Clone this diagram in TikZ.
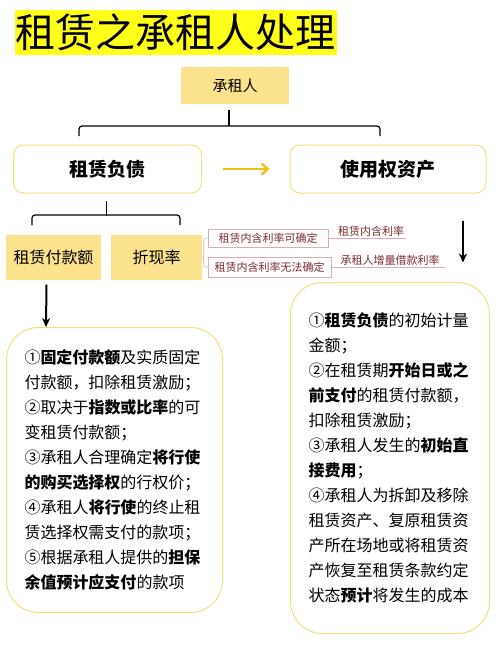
\documentclass[tikz,border=0pt]{standalone}
\usepackage{fontspec}
\setmainfont{Noto Sans CJK SC}
\usepackage{xcolor}
\usetikzlibrary{arrows.meta, positioning, calc}

\begin{document}
\begin{tikzpicture}[x=1pt, y=-1pt,
  fillbox/.style={fill=caixa, minimum width=#1, inner sep=0pt},
  roundbox/.style={draw=borda, line width=1pt, fill=white, rounded corners=10pt, inner sep=0pt},
  bigbox/.style={draw=borda, line width=1pt, fill=white, rounded corners=32pt, align=left,
    inner xsep=18pt, inner ysep=0pt, anchor=north west, font=\fontsize{16}{25}\selectfont},
  taxa/.style={draw=rosa, line width=0.5pt, text=vinho, inner sep=0pt, font=\fontsize{11}{11}\selectfont},
  taxaout/.style={text=vinho, inner ysep=1pt, anchor=south, font=\fontsize{11}{11}\selectfont},
  chave/.style={line width=1.2pt, color=black, rounded corners=3pt}]
% --- CORES HEX ---
\definecolor{destaque}{HTML}{FFFF1A}
\definecolor{caixa}{HTML}{FBE38D}
\definecolor{borda}{HTML}{F3DF7C}
\definecolor{seta}{HTML}{F2C21B}
\definecolor{rosa}{HTML}{D9AEB4}
\definecolor{vinho}{HTML}{7A2B33}

\useasboundingbox (0,0) rectangle (500,654);

% LAYER 1: Titulo
\node[fill=destaque, minimum width=322pt, minimum height=45pt, inner sep=0pt,
  font=\fontsize{40}{40}\selectfont] (titulo) at (176,32.5) {租赁之承租人处理};

% LAYER 2: Caixas principais
\node[fillbox=108pt, minimum height=37pt, font=\fontsize{15}{15}\selectfont] (ct) at (235,85.5) {承租人};
\node[roundbox, minimum width=188pt, minimum height=48pt, font=\fontsize{19}{19}\selectfont\bfseries] (zl) at (107.5,169) {租赁负债};
\node[roundbox, minimum width=196pt, minimum height=48pt, font=\fontsize{19}{19}\selectfont\bfseries] (sy) at (388,169) {使用权资产};
\node[fillbox=95pt, minimum height=45pt, font=\fontsize{16}{16}\selectfont] (fk) at (53.5,257) {租赁付款额};
\node[fillbox=91pt, minimum height=45pt, font=\fontsize{16}{16}\selectfont] (zx) at (156.5,257) {折现率};

% LAYER 3: Chaves
\draw[line width=1.2pt] ($(ct.south)+(-6,6)$) -- ($(ct.south)+(-6,22)$);
\draw[chave] (79,136) -- (79,126) -- (380,126) -- (380,136);
\draw[line width=1.2pt] ($(zl.south)+(-1,7)$) -- ($(zl.south)+(-1,22)$);
\draw[chave] (32,225) -- (32,215) -- (180,215) -- (180,225);

% LAYER 4: Taxas de desconto
\node[taxa, minimum width=120pt, minimum height=18pt] (l1) at (268,238) {租赁内含利率可确定};
\node[taxa, minimum width=123pt, minimum height=20pt] (l2) at (269.5,267) {租赁内含利率无法确定};
\node[taxaout, inner xsep=2pt] (r1) at (371,238) {租赁内含利率};
\node[taxaout, inner xsep=5pt] (r2) at (390,267) {承租人增量借款利率};
\draw[rosa, line width=0.6pt] (zx.east) -- ++(2,0);
\draw[rosa, line width=0.6pt, rounded corners=2pt] (l1.west) -- ++(-4,0) |- (l2.west);
\draw[rosa, line width=0.6pt] (l1.east) -- (r1.south east);
\draw[rosa, line width=0.6pt] (l2.east) -- (r2.south east);

% LAYER 5: Caixas de texto
\node[bigbox, text width=180pt, minimum width=216pt, minimum height=285pt] (lb) at (6,327) {%
①\textbf{固定付款额}及实质固定\\
付款额，扣除租赁激励；\\
②取决于\textbf{指数或比率}的可\\
变租赁付款额；\\
③承租人合理确定\textbf{将行使}\\
\textbf{的购买选择权}的行权价；\\
④承租人\textbf{将行使}的终止租\\
赁选择权需支付的款项；\\
⑤根据承租人提供的\textbf{担保}\\
\textbf{余值预计应支付}的款项};
\node[bigbox, text width=163pt, minimum width=199pt, minimum height=351pt] (rb) at (290,282) {%
①\textbf{租赁负债}的初始计量\\
金额；\\
②在租赁期\textbf{开始日或之}\\
\textbf{前支付}的租赁付款额，\\
扣除租赁激励；\\
③承租人发生的\textbf{初始直}\\
\textbf{接费用}；\\
④承租人为拆卸及移除\\
租赁资产、复原租赁资\\
产所在场地或将租赁资\\
产恢复至租赁条款约定\\
状态\textbf{预计}将发生的成本};

% LAYER 6: Setas
\draw[seta, line width=2.5pt, -{Straight Barb[length=6pt, width=11pt]}] (zl.east)+(21,0) -- ($(sy.west)+(-20,0)$);
\draw[line width=2pt, -{Stealth[length=9pt, width=8pt]}] ($(fk.south)+(-7,5)$) -- (lb.north -| 46,0);
\draw[line width=2pt, -{Stealth[length=9pt, width=8pt]}] ($(sy.south)+(75,27)$) -- ($(sy.south)+(75,69)$);
\end{tikzpicture}
\end{document}
